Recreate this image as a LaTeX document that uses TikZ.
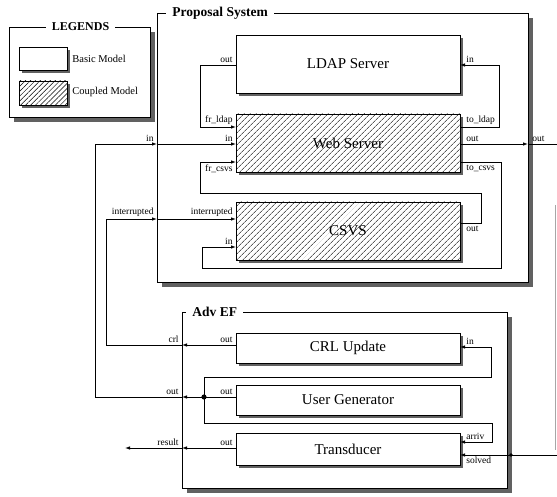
\documentclass[tikz,border=0pt]{standalone}
\usepackage{fontspec}
\setmainfont{Liberation Serif}
\usetikzlibrary{arrows.meta,patterns.meta,calc}
\begin{document}
\begin{tikzpicture}[x=1pt,y=-1pt,line width=0.8pt,
  arr/.style={-{Latex[length=5pt,width=3.5pt]}},
  shad/.style={preaction={draw=none,fill=black!62,transform canvas={xshift=#1,yshift=-#1}}},
  shad/.default=3pt,
  bbox/.style={shad,draw,fill=white,minimum width=224pt,inner sep=0pt,font=\fontsize{15}{17}\selectfont},
  cbox/.style={shad,preaction={fill=white},draw,pattern={Lines[angle=45,distance=4pt,line width=0.55pt]},minimum width=224pt,inner sep=0pt,font=\fontsize{15}{17}\selectfont},
  framebox/.style={shad=5pt,draw,fill=white,inner sep=0pt},
  ftitle/.style={fill=white,inner xsep=6pt,inner ysep=1pt,font=\bfseries\fontsize{13.5}{15}\selectfont},
  port/.style={inner sep=1pt,font=\fontsize{9.5}{10}\selectfont},
  legtxt/.style={inner sep=1pt,anchor=west,font=\fontsize{10.5}{12}\selectfont}]
\useasboundingbox (0,0) rectangle (557,497);

% frames
\node[framebox,minimum width=141pt,minimum height=90pt] (leg) at (79.5,72) {};
\node[framebox,minimum width=371pt,minimum height=269pt] (ps) at (342.5,147.5) {};
\node[framebox,minimum width=325pt,minimum height=176pt] (adv) at (344.5,400) {};
\node[ftitle,font=\bfseries\fontsize{12}{14}\selectfont] (legt) at (80.5,27) {LEGENDS};
\node[ftitle,anchor=west] (pst) at (166,13) {Proposal System};
\node[ftitle,anchor=west] (advt) at (186,312) {Adv EF};

% legend
\node[bbox,minimum width=48pt,minimum height=23pt] (lb) at (43,58.5) {};
\node[cbox,minimum width=48pt,minimum height=24pt,pattern={Lines[angle=45,distance=3.5pt,line width=0.5pt]}] (lc) at (43,93) {};
\node[legtxt] (lbt) at (71,59) {Basic Model};
\node[legtxt] (lct) at (71,92) {Coupled Model};

% boxes
\node[bbox,minimum height=58pt] (ldap) at (348,64) {LDAP Server};
\node[cbox,minimum height=58pt] (web) at (348,143) {Web Server};
\node[cbox,minimum height=58pt] (csvs) at (348,231) {CSVS};
\node[bbox,minimum height=30pt] (crl) at (348,348) {CRL Update};
\node[bbox,minimum height=30pt] (ug) at (348,400) {User Generator};
\node[bbox,minimum height=32pt] (tr) at (348,449) {Transducer};

% ports
\coordinate (ldapout) at (236,65);
\coordinate (ldapin) at (460,65);
\coordinate (webfrl) at (236,127);
\coordinate (webin) at (236,144);
\coordinate (webfrc) at (236,162);
\coordinate (webtol) at (460,127);
\coordinate (webout) at (460,144);
\coordinate (webtoc) at (460,162);
\coordinate (csvsint) at (236,219);
\coordinate (csvsin) at (236,247);
\coordinate (csvsout) at (460,223);
\coordinate (psin) at (157,144);
\coordinate (psint) at (157,219);
\coordinate (psout) at (528,144);
\coordinate (crlout) at (236,345);
\coordinate (crlin) at (460,347);
\coordinate (ugout) at (236,397);
\coordinate (trout) at (236,448);
\coordinate (trarr) at (460,442);
\coordinate (trsol) at (460,455);
\coordinate (advcrl) at (182,345);
\coordinate (advout) at (182,397);
\coordinate (advres) at (182,448);
\coordinate (advsol) at (511,455);
\coordinate (ugdot) at (204,397);
\coordinate (resend) at (125,448);
\coordinate (rightout) at (557,144);
\coordinate (rightsol) at (557,455);

% connectors
\draw[arr] (ldapout) -- (200,65) |- (webfrl);
\draw[arr] (webtol) -- (499,127) |- (ldapin);
\draw[arr] (csvsout) -- (481,223) |- (200,193) |- (webfrc);
\draw[arr] (webtoc) -- (501,162) |- (202,268) |- (csvsin);
\draw[arr] (psin) -- (webin);
\draw[arr] (psint) -- (csvsint);
\draw[arr] (webout) -- (psout);
\draw (psout) -- (rightout);
\draw (ugout) -- (ugdot);
\draw[arr] (ugdot) -- (advout);
\draw[arr] (advout) -- (95,397) |- (psin);
\draw[arr] (ugdot) |- (491,377) |- (crlin);
\draw[arr] (ugdot) |- (492,423) |- (trarr);
\draw[arr] (crlout) -- (advcrl);
\draw[arr] (advcrl) -- (106,345) |- (psint);
\draw[arr] (trout) -- (advres);
\draw[arr] (advres) -- (resend);
\draw (rightsol) -- (advsol);
\draw[arr] (advsol) -- (trsol);
\fill (ugdot) circle (2.6);
\fill (advsol) circle (1.8);
\draw[black!35,line width=0.5pt] (555.5,205) -- (555.5,450);

% port labels
\node[port,anchor=south east] at (234,64) {out};
\node[port,anchor=south west] at (465,64) {in};
\node[port,anchor=south east] at (234,126) {fr\_ldap};
\node[port,anchor=south east] at (234,143) {in};
\node[port,anchor=north east] at (234,163) {fr\_csvs};
\node[port,anchor=south west] at (465,126) {to\_ldap};
\node[port,anchor=south west] at (465,143) {out};
\node[port,anchor=north west] at (465,164) {to\_csvs};
\node[port,anchor=south east] at (234,218) {interrupted};
\node[port,anchor=south east] at (234,246) {in};
\node[port,anchor=north west] at (465,225) {out};
\node[port,anchor=south east] at (155,143) {in};
\node[port,anchor=south east] at (155,218) {interrupted};
\node[port,anchor=south west] at (531,143) {out};
\node[port,anchor=south east] at (234,344) {out};
\node[port,anchor=south west] at (465,346) {in};
\node[port,anchor=south east] at (234,396) {out};
\node[port,anchor=south east] at (234,447) {out};
\node[port,anchor=south west] at (465,441) {arriv};
\node[port,anchor=north west] at (465,456) {solved};
\node[port,anchor=south east] at (180,344) {crl};
\node[port,anchor=south east] at (180,396) {out};
\node[port,anchor=south east] at (180,447) {result};
\end{tikzpicture}
\end{document}
